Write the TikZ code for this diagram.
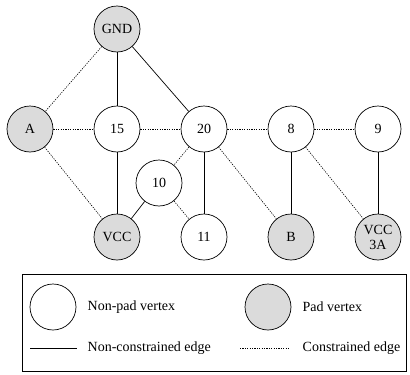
\documentclass[tikz,border=0pt]{standalone}
\usepackage{fontspec}
\setmainfont{Liberation Serif}
\tikzset{vertex/.style={circle, draw, minimum size=46pt, inner sep=0pt, font=\fontsize{14}{14}\selectfont},
  pad/.style={vertex, fill=black!14},
  lbl/.style={anchor=west, font=\fontsize{14}{14}\selectfont},
  free/.style={draw, line width=0.7pt},
  constr/.style={draw, line width=0.6pt, dash pattern=on 1.2pt off 1.2pt}}
\begin{document}
\begin{tikzpicture}[x=1pt, y=-1pt, line width=0.7pt]
      \useasboundingbox (0,0) rectangle (410,375);
      \node (gnd) at (117,29) [pad] {GND};
      \node (a) at (30,129) [pad] {A};
      \node (15) at (117,129) [vertex] {15};
      \node (20) at (204,129) [vertex] {20};
      \node (8) at (291,129) [vertex] {8};
      \node (9) at (378,129) [vertex] {9};
      \node (10) at (159,183) [vertex] {10};
      \node (vcc) at (117,237) [pad] {VCC};
      \node (11) at (204,237) [vertex] {11};
      \node (b) at (291,237) [pad] {B};
      \node (vcc3a) at (378,237) [pad, align=center, font=\fontsize{14}{15}\selectfont] {VCC\\3A};
      \foreach \source/\dest in {gnd/15, gnd/20, 15/vcc, 10/vcc, 20/11, 8/b, 9/vcc3a}
        \path (\source) edge[free] (\dest);
      \foreach \source/\dest in {gnd/a, a/15, a/vcc, 15/20, 20/8, 8/9, 20/10, 10/11, 20/b, 8/vcc3a}
        \path (\source) edge[constr] (\dest);
      % legend
      \draw (22,274) rectangle (406,371);
      \node (lnp) at (53,307) [vertex] {};
      \node (lp) at (268,307) [pad] {};
      \node (tnp) at (84,307) [lbl] {Non-pad vertex};
      \node (tp) at (299,307) [lbl] {Pad vertex};
      \coordinate (s1) at (30,348);
      \coordinate (s2) at (77,348);
      \coordinate (d1) at (240,348);
      \coordinate (d2) at (290,348);
      \path (s1) edge[free] (s2);
      \path (d1) edge[constr] (d2);
      \node (tnc) at (84,348) [lbl] {Non-constrained edge};
      \node (tc) at (299,348) [lbl] {Constrained edge};
\end{tikzpicture}
\end{document}
